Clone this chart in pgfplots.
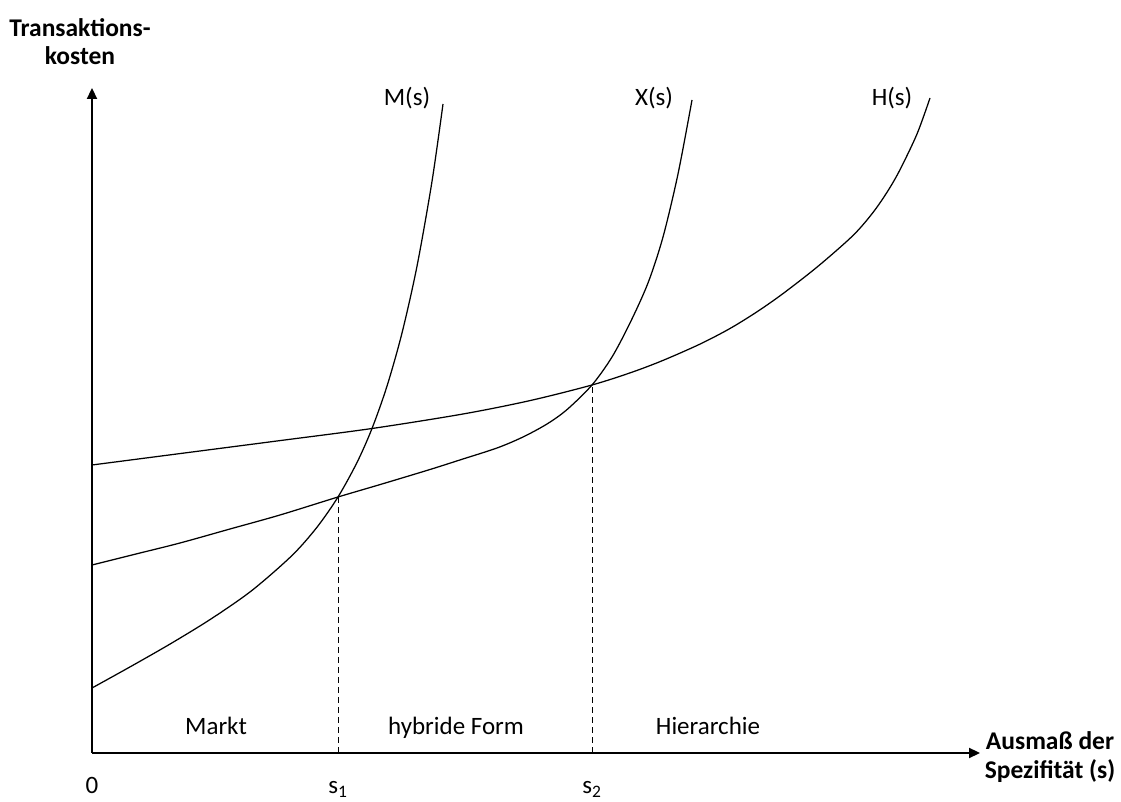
\documentclass[border=0pt]{standalone}
\usepackage{fontspec}
\setmainfont{Carlito}
\usepackage{pgfplots}
\pgfplotsset{compat=1.18}
\usetikzlibrary{arrows.meta}
\begin{document}
\begin{tikzpicture}[font=\fontsize{25}{28}\selectfont]
\begin{axis}[
  scale only axis,
  width=888pt, height=665pt,
  xmin=0, xmax=888, ymin=0, ymax=665,
  axis lines=left,
  axis line style={line width=2.2pt, -{Triangle[length=11pt,width=10pt]}},
  xtick={0,246,500}, xticklabels={0, s\textsubscript{1}, s\textsubscript{2}},
  ytick=\empty,
  major tick length=0pt,
  xticklabel style={anchor=base, yshift=-41pt},
  clip=false,
]
% invisible frame = picture size
\path (axis cs:-92,-46) rectangle (axis cs:1029,753);
% M(s)
\addplot[black, line width=1.25pt, smooth] coordinates {
 (0,65) (40,87.2) (80,110.1) (120,134.7) (160,162.6) (200,197.5) (225,225.8) (246,256)
 (265,290.5) (280,324.5) (295,366.9) (310,420) (325,486.8) (340,571.6) (351,649)};
% X(s)
\addplot[black, line width=1.25pt, smooth] coordinates {
 (0,188) (44,199) (88,210) (138,224) (188,238) (246,256) (290,269) (338,283.5) (370,293.7)
 (405,305) (431,316) (455,329) (475,343.4) (500,368) (520,396) (538,430) (556,470)
 (571,516) (586,579) (600,653)};
% H(s)
\addplot[black, line width=1.25pt, smooth] coordinates {
 (0,288) (94,300.2) (188,312.4) (280,324.5) (371,339) (438,352.4) (500,368) (540,380.8)
 (571,392.6) (608,408.9) (638,424.5) (665,441.2) (691,459.4) (726,486.7) (761,517.5)
 (781,540.5) (796,562.3) (808,583.3) (825,619) (838,655)};
% dashed guides
\addplot[black, line width=1pt, dash pattern=on 6pt off 4pt] coordinates {(246,0) (246,256)};
\addplot[black, line width=1pt, dash pattern=on 6pt off 4pt] coordinates {(500,0) (500,368)};
% labels
\node[anchor=base] at (axis cs:315,647) {M(s)};
\node[anchor=base] at (axis cs:562,647) {X(s)};
\node[anchor=base] at (axis cs:800,647) {H(s)};
\node[anchor=base] at (axis cs:124,18) {Markt};
\node[anchor=base] at (axis cs:364,18) {hybride Form};
\node[anchor=base] at (axis cs:616,18) {Hierarchie};
\node[align=center, font=\fontsize{25.5}{28}\selectfont\bfseries] at (axis cs:-12,711) {Transaktions-\\kosten};
\node[align=center, font=\fontsize{25.5}{29}\selectfont\bfseries] at (axis cs:958,-4) {Ausmaß der\\Spezifität (s)};
\end{axis}
\end{tikzpicture}
\end{document}
